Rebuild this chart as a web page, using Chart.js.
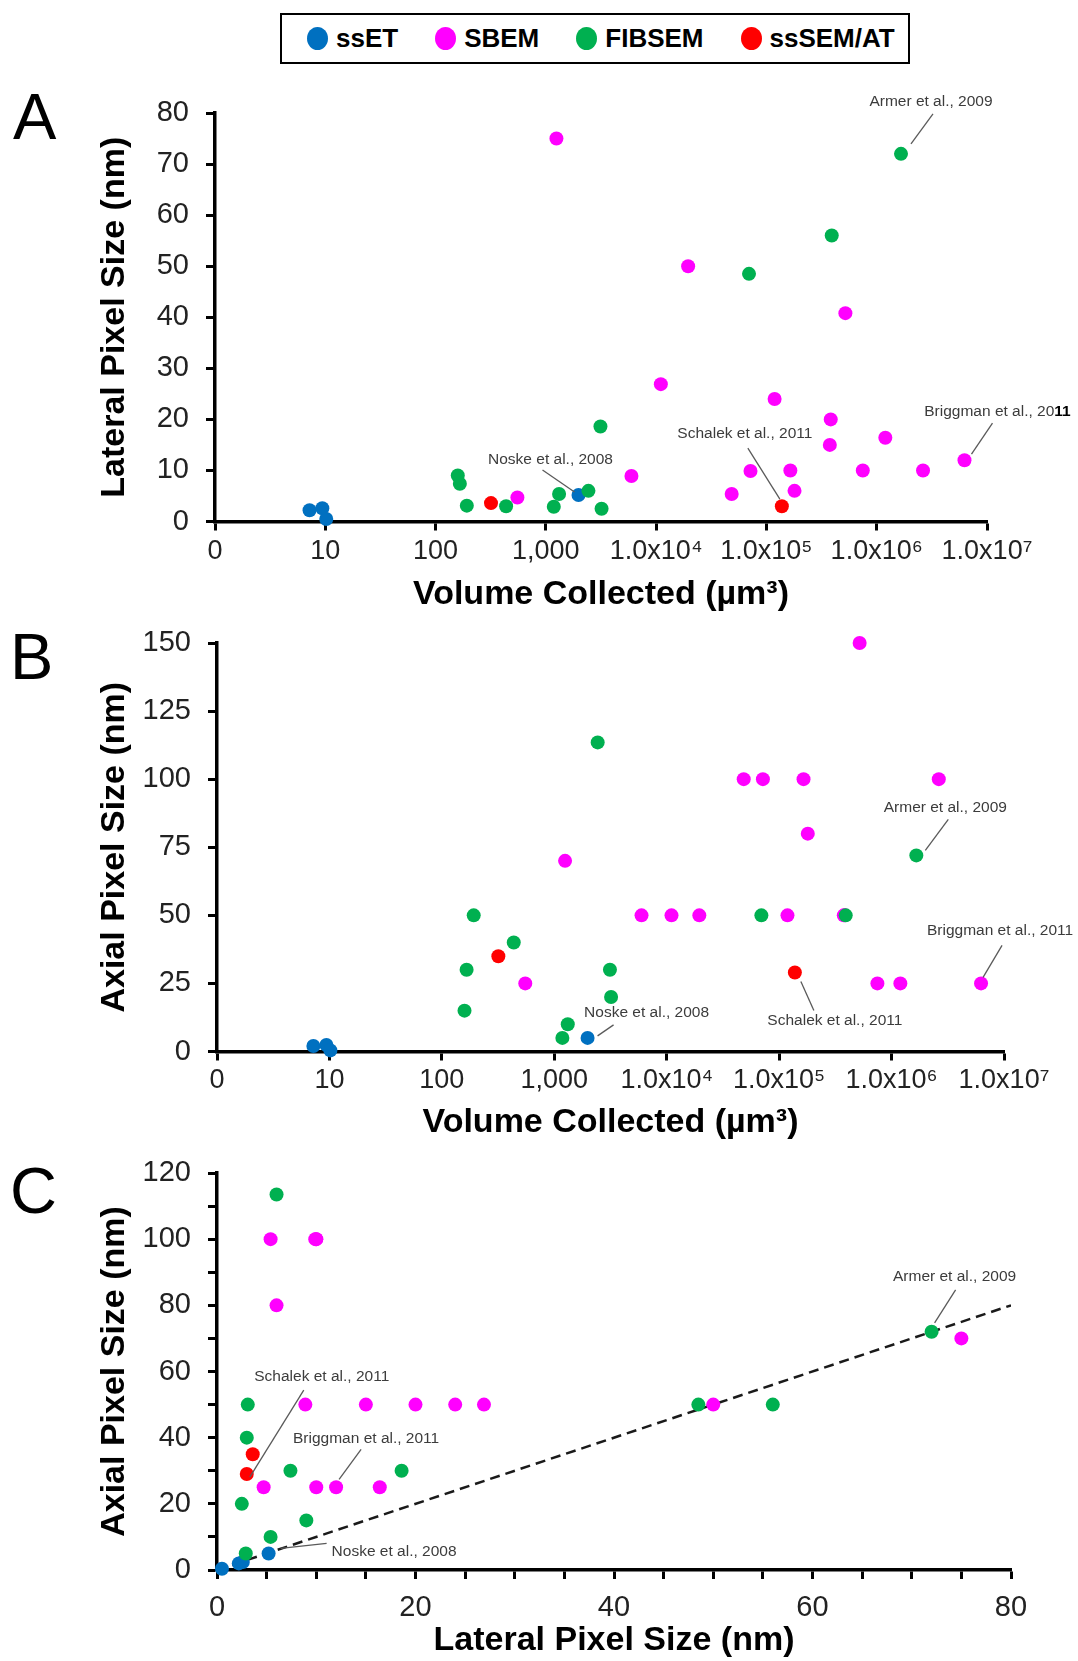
<!DOCTYPE html>
<html>
<head>
<meta charset="utf-8">
<title>Pixel size vs volume collected</title>
<script src="https://cdn.jsdelivr.net/npm/chart.js@4.4.1/dist/chart.umd.min.js"></script>
<style>
  body { margin: 0; background: #fff; width: 1078px; height: 1661px; position: relative; overflow: hidden;
         font-family: "Liberation Sans", Arial, sans-serif; }
  canvas { position: absolute; left: 0; top: 0; }
  .panel-letter { position: absolute; font-size: 65px; line-height: 1; color: #000; }
  #legend { position: absolute; left: 280px; top: 13px; width: 630px; height: 51px; box-sizing: border-box;
            border: 2.5px solid #000; display: flex; align-items: center; padding-left: 25px; }
  .item { display: flex; align-items: center; margin-right: 37px; font-size: 26px; font-weight: bold; color: #000; }
  .dot { width: 21px; height: 23px; border-radius: 50%; margin-right: 8px; }
</style>
</head>
<body>
<div id="legend"></div>
<div class="panel-letter" style="left:13px;top:84px">A</div>
<div class="panel-letter" style="left:10px;top:624px">B</div>
<div class="panel-letter" style="left:10px;top:1158px">C</div>
<canvas id="chartC" width="1078" height="1661"></canvas>
<canvas id="chartB" width="1078" height="1661"></canvas>
<canvas id="chartA" width="1078" height="1661"></canvas>
<script>
const seriesNames = ['ssET', 'SBEM', 'FIBSEM', 'ssSEM/AT'];
const seriesColors = ['#0070C0', '#FF00FF', '#00B050', '#FF0000'];

// volume collected (µm³), lateral and axial pixel size (nm) of each data set
const ssetVolume = [7.2, 9.4, 10.2, 1977];
const ssetLateral = [2.2, 2.6, 0.5, 5.2];
const ssetAxial = [2.0, 2.4, 0.4, 5.0];

const sbemVolume = [1247, 552, 5970, 11030, 19500, 48400, 71700, 118600, 164800, 179800,
                    383000, 375800, 520000, 748000, 1197000, 2630000, 6250000];
const sbemLateral = [75, 4.7, 8.9, 26.9, 50, 5.4, 9.9, 24, 10, 6, 20, 15, 40.8, 10, 16.4, 10, 12];
const sbemAxial = [70, 25, 50, 50, 50, 100, 100, 50, 100, 80, 50, 50, 150, 25, 25, 100, 25];

const fibVolume = [159, 166, 192, 436, 1180, 1318, 2432, 3126, 3200, 69500, 391000, 1660000];
const fibLateral = [9, 7.4, 3.1, 3.0, 2.9, 5.4, 6.0, 18.6, 2.5, 48.5, 56, 72];
const fibAxial = [15, 30, 50, 40, 5, 10, 113.5, 30, 20, 50, 50, 72];

const atVolume = [318, 138000];
const atLateral = [3.6, 3.0];
const atAxial = [35, 29];

const unityLine = [0, 80];

const volTicks = [1, 10, 100, 1000, 1e4, 1e5, 1e6, 1e7];
const volTickLabels = ['0', '10', '100', '1,000', '1.0x10⁴', '1.0x10⁵', '1.0x10⁶', '1.0x10⁷'];

const FONT = '"Liberation Sans", Arial, sans-serif';
const W = 1078, H = 1661;

const series = seriesNames.map((name, i) => ({
  name: name,
  color: seriesColors[i],
  volume: [ssetVolume, sbemVolume, fibVolume, atVolume][i],
  lateral: [ssetLateral, sbemLateral, fibLateral, atLateral][i],
  axial: [ssetAxial, sbemAxial, fibAxial, atAxial][i],
}));

// legend (shared by the three panels)
const legend = document.getElementById('legend');
series.forEach(s => {
  const item = document.createElement('div');
  item.className = 'item';
  item.innerHTML = `<span class="dot" style="background:${s.color}"></span>${s.name}`;
  legend.appendChild(item);
});

// labelled studies: set = series index, index = point in that series
const notesA = [
  { set: 2, index: 11, text: 'Armer et al., 2009', at: [30, -52], line: [10, -10, 32, -40] },
  { set: 1, index: 16, text: 'Briggman et al., 20', bold: '11', at: [33, -49], line: [7, -6, 28, -37] },
  { set: 3, index: 1, text: 'Schalek et al., 2011', at: [-37, -72], line: [-2, -7, -34, -58] },
  { set: 0, index: 3, text: 'Noske et al., 2008', at: [-28, -35], line: [-4, -3, -36, -25] },
];
const notesB = [
  { set: 2, index: 11, text: 'Armer et al., 2009', at: [29, -48], line: [9, -5, 32, -36] },
  { set: 1, index: 16, text: 'Briggman et al., 2011', at: [19, -53], line: [2, -6, 21, -38] },
  { set: 3, index: 1, text: 'Schalek et al., 2011', at: [40, 48], line: [6, 9, 19, 38] },
  { set: 0, index: 3, text: 'Noske et al., 2008', at: [59, -25], line: [10, -2, 26, -13] },
];
const notesC = [
  { set: 2, index: 11, text: 'Armer et al., 2009', at: [23, -55], line: [3, -9, 24, -42] },
  { set: 3, index: 1, text: 'Schalek et al., 2011', at: [75, -97], line: [3, 3, 57, -84] },
  { set: 1, index: 16, text: 'Briggman et al., 2011', at: [30, -49], line: [3, -8, 25, -38] },
  { set: 0, index: 3, text: 'Noske et al., 2008', at: [63, -2], line: [12, -5, 58, -10], align: 'left' },
];

function notesPlugin(notes) {
  return {
    id: 'notes',
    afterDatasetsDraw(chart) {
      const ctx = chart.ctx;
      ctx.save();
      notes.forEach(n => {
        const pt = chart.getDatasetMeta(n.set).data[n.index];
        ctx.strokeStyle = '#5a5a5a';
        ctx.lineWidth = 1.3;
        ctx.beginPath();
        ctx.moveTo(pt.x + n.line[0], pt.y + n.line[1]);
        ctx.lineTo(pt.x + n.line[2], pt.y + n.line[3]);
        ctx.stroke();

        ctx.textBaseline = 'middle';
        ctx.textAlign = 'left';
        ctx.font = `15.5px ${FONT}`;
        const wHead = ctx.measureText(n.text).width;
        ctx.font = `bold 15.5px ${FONT}`;
        const wTail = n.bold ? ctx.measureText(n.bold).width : 0;
        const x0 = n.align === 'left' ? pt.x + n.at[0] : pt.x + n.at[0] - (wHead + wTail) / 2;
        const y0 = pt.y + n.at[1];
        ctx.font = `15.5px ${FONT}`;
        ctx.fillStyle = '#3c3c3c';
        ctx.fillText(n.text, x0, y0);
        if (n.bold) {
          ctx.font = `bold 15.5px ${FONT}`;
          ctx.fillStyle = '#000';
          ctx.fillText(n.bold, x0 + wHead, y0);
        }
      });
      ctx.restore();
    }
  };
}

function scatterSets(xKey, yKey, clip) {
  return series.map((s, i) => ({
    label: s.name,
    data: s[xKey].map((v, j) => ({ x: v, y: s[yKey][j] })),
    backgroundColor: s.color,
    borderWidth: 0,
    pointRadius: 7,
    pointHoverRadius: 7,
    order: series.length - i,
    clip: clip,
  }));
}

function axisStyle(labelSize, labelPad) {
  return {
    border: { display: true, color: '#000', width: 3.5 },
    grid: { drawOnChartArea: false, drawTicks: true, tickLength: 9, tickWidth: 3, tickColor: '#000', color: '#000' },
    ticks: { color: '#222', font: { family: FONT, size: labelSize, lineHeight: 1 }, padding: labelPad,
             autoSkip: false, maxRotation: 0, minRotation: 0, maxTicksLimit: 100 },
  };
}

function titleStyle(text, pad) {
  return { display: true, text: text, color: '#000', padding: pad,
           font: { family: FONT, size: 34, weight: 'bold', lineHeight: 1 } };
}

function makeScale(base, spec, title) {
  const baseTicks = base.ticks;
  const scale = Object.assign(base, spec);
  scale.ticks = Object.assign({}, baseTicks, spec.ticks || {});
  scale.title = title;
  delete scale.titleText;
  return scale;
}

function buildChart(id, frame, xSpec, ySpec, datasets, notes) {
  const xHeight = frame.xTitleY + 17 - frame.bottom;
  const x = makeScale(axisStyle(frame.xFont, frame.xLabelPad), xSpec, titleStyle(xSpec.titleText, { top: 0, bottom: 0 }));
  x.afterFit = s => { s.height = xHeight; };
  const y = makeScale(axisStyle(29, 17), ySpec, titleStyle(ySpec.titleText, { top: 98, bottom: 0 }));
  y.afterFit = s => { s.width = frame.left; };

  return new Chart(document.getElementById(id), {
    type: 'scatter',
    data: { datasets: datasets },
    options: {
      responsive: false,
      animation: false,
      devicePixelRatio: 1,
      layout: { padding: { left: 0, top: frame.top, right: W - frame.right, bottom: H - frame.bottom - xHeight } },
      plugins: { legend: { display: false }, tooltip: { enabled: false } },
      scales: { x: x, y: y },
    },
    plugins: [notesPlugin(notes)],
  });
}

const volumeAxis = {
  type: 'logarithmic', min: 1, max: 1e7,
  titleText: 'Volume Collected (µm³)',
  afterBuildTicks: s => { s.ticks = volTicks.map(v => ({ value: v })); },
  ticks: { callback: (v, i) => volTickLabels[i] },
};

buildChart('chartA',
  { left: 215, right: 987, top: 113, bottom: 521.5, xTitleY: 595, xLabelPad: 8, xFont: 27 },
  volumeAxis,
  { type: 'linear', min: 0, max: 80, titleText: 'Lateral Pixel Size (nm)', ticks: { stepSize: 10 } },
  scatterSets('volume', 'lateral', false),
  notesA);

buildChart('chartB',
  { left: 217, right: 1004, top: 643, bottom: 1051.5, xTitleY: 1122.5, xLabelPad: 7, xFont: 27 },
  volumeAxis,
  { type: 'linear', min: 0, max: 150, titleText: 'Axial Pixel Size (nm)', ticks: { stepSize: 25 } },
  scatterSets('volume', 'axial', false),
  notesB);

const setsC = scatterSets('lateral', 'axial', 10);
setsC.push({
  label: 'x = y',
  data: unityLine.map(v => ({ x: v, y: v })),
  showLine: true,
  borderColor: '#1a1a1a',
  borderWidth: 2.5,
  borderDash: [10, 6],
  pointRadius: 0,
  order: 10,
});

buildChart('chartC',
  { left: 217, right: 1011, top: 1173, bottom: 1570, xTitleY: 1641, xLabelPad: 14, xFont: 29 },
  { type: 'linear', min: 0, max: 80, titleText: 'Lateral Pixel Size (nm)',
    ticks: { stepSize: 5, callback: v => (v % 20 === 0 ? v : '') } },
  { type: 'linear', min: 0, max: 120, titleText: 'Axial Pixel Size (nm)',
    ticks: { stepSize: 10, callback: v => (v % 20 === 0 ? v : '') } },
  setsC,
  notesC);
</script>
</body>
</html>
